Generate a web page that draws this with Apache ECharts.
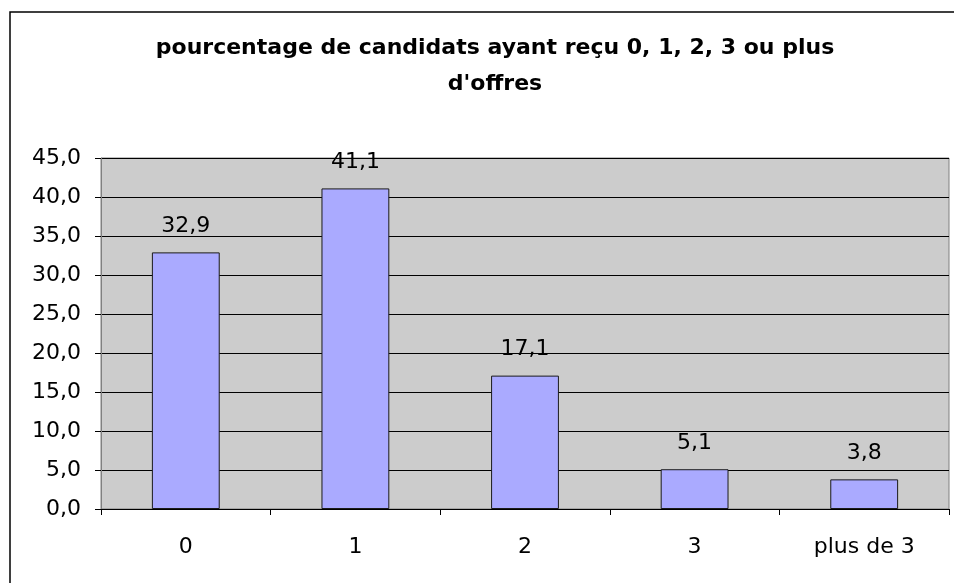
<!DOCTYPE html>
<html>
<head>
<meta charset="utf-8">
<script src="https://cdn.jsdelivr.net/npm/echarts@6/dist/echarts.min.js"></script>
<style>
  html, body { margin: 0; padding: 0; background: #fff; }
  #chart { width: 954px; height: 583px; }
</style>
</head>
<body>
<div id="chart"></div>
<script>
'use strict';

var categories = ['0', '1', '2', '3', 'plus de 3'];
var percentages = [32.9, 41.1, 17.1, 5.1, 3.8];
var titleText = 'pourcentage de candidats ayant reçu 0, 1, 2, 3 ou plus\nd\'offres';

var FONT = 'DejaVu Sans';

function fmt(v) {
  return Number(v).toFixed(1).replace('.', ',');
}

var chart = echarts.init(document.getElementById('chart'), null, { renderer: 'canvas' });

chart.setOption({
  animation: false,
  backgroundColor: '#fff',
  title: {
    text: titleText,
    left: 490,
    top: 25,
    textAlign: 'center',
    textStyle: {
      fontFamily: FONT,
      fontWeight: 'bold',
      fontSize: 22,
      lineHeight: 36,
      color: '#000'
    }
  },
  graphic: [{
    type: 'rect',
    shape: { x: 10, y: 12, width: 980, height: 620 },
    style: { fill: 'none', stroke: '#000', lineWidth: 1.5 },
    silent: true,
    z: 0
  }],
  grid: {
    left: 101,
    right: 5,
    top: 158,
    bottom: 74,
    show: true,
    backgroundColor: '#cccccc',
    borderColor: '#808080',
    borderWidth: 1
  },
  xAxis: {
    type: 'category',
    data: categories,
    boundaryGap: true,
    axisLine: { lineStyle: { color: '#000', width: 1 } },
    axisTick: { show: true, length: 6, lineStyle: { color: '#000' } },
    axisLabel: {
      margin: 27,
      fontFamily: FONT,
      fontSize: 22,
      color: '#000'
    },
    splitLine: { show: false }
  },
  yAxis: {
    type: 'value',
    min: 0,
    max: 45,
    interval: 5,
    axisLine: { show: true, lineStyle: { color: '#808080' } },
    axisTick: { show: true, length: 6, lineStyle: { color: '#000' } },
    axisLabel: {
      margin: 20,
      fontFamily: FONT,
      fontSize: 22,
      color: '#000',
      formatter: function(v) { return fmt(v); }
    },
    splitLine: { show: true, lineStyle: { color: '#000', width: 1 } }
  },
  series: [{
    type: 'bar',
    data: percentages,
    barWidth: '40%',
    itemStyle: {
      color: '#aaaaff',
      borderColor: '#1a1a1a',
      borderWidth: 1
    },
    label: {
      show: true,
      position: 'top',
      distance: 15,
      fontFamily: FONT,
      fontSize: 22,
      color: '#000',
      formatter: function(p) { return fmt(p.value); }
    }
  }]
});
</script>
</body>
</html>
